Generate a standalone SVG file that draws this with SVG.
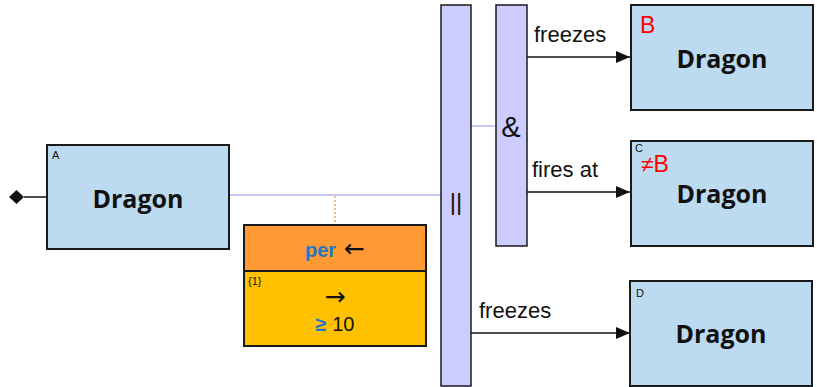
<svg xmlns="http://www.w3.org/2000/svg" width="817" height="387" viewBox="0 0 817 387">
<style>
.node{fill:#bcdbf1;stroke:#1a1a1a;stroke-width:2}
.bar{fill:#ccccff;stroke:#1a1a1a;stroke-width:1.5}
.big{font-family:"Open Sans","Liberation Sans",sans-serif;font-weight:bold;font-size:25px;fill:#111;text-anchor:middle}
.tag{font-family:"Liberation Sans",sans-serif;font-size:11px;fill:#111}
.red{font-family:"Liberation Sans",sans-serif;font-size:23px;fill:#ff0000}
.lbl{font-family:"Liberation Sans",sans-serif;font-size:22px;fill:#111}
.arr{stroke:#111;stroke-width:1.5;fill:none;marker-end:url(#ah)}
.soft{stroke:#c8c8f4;stroke-width:2;fill:none}
.sym{font-family:"DejaVu Sans",sans-serif;font-size:25px;fill:#111}
</style>
<defs>
<marker id="ah" markerWidth="14" markerHeight="12" refX="14" refY="6" orient="auto" markerUnits="userSpaceOnUse">
<path d="M0,0 L14,6 L0,12 Z" fill="#111"/>
</marker>
</defs>
<rect width="817" height="387" fill="#ffffff"/>
<g id="connectors">
<line class="soft" x1="229" y1="195" x2="441" y2="195"/>
<line class="soft" x1="471" y1="126" x2="496" y2="126"/>
<line x1="335" y1="196" x2="335" y2="225" stroke="#f4a460" stroke-width="1.5" stroke-dasharray="2,2"/>
<line x1="24" y1="197" x2="47" y2="197" stroke="#111" stroke-width="1.5"/>
<path d="M9,197 L16.5,190 L24,197 L16.5,204 Z" fill="#111"/>
<line class="arr" x1="527" y1="57" x2="630" y2="57"/>
<text class="lbl" x="534" y="42">freezes</text>
<line class="arr" x1="527" y1="192" x2="630" y2="192"/>
<text class="lbl" x="532" y="177">fires at</text>
<line class="arr" x1="471" y1="333" x2="630" y2="333"/>
<text class="lbl" x="479" y="318">freezes</text>
</g>
<g id="nodeA">
<rect class="node" x="47" y="145" width="182" height="104"/>
<text class="tag" x="52" y="159">A</text>
<text class="big" x="138" y="208">Dragon</text>
</g>
<g id="constraint">
<rect x="244" y="225" width="182" height="46" fill="#ff9933" stroke="#1a1a1a" stroke-width="2"/>
<rect x="244" y="271" width="182" height="75" fill="#ffc000" stroke="#1a1a1a" stroke-width="2"/>
<text x="335" y="257" text-anchor="middle" font-family="Liberation Sans,sans-serif" font-size="20px"><tspan fill="#1f78c1" font-weight="bold">per</tspan><tspan class="sym"> ←</tspan></text>
<text x="248" y="285" font-family="Liberation Sans,sans-serif" font-size="11px" fill="#111">{1}</text>
<text class="sym" x="335" y="305" text-anchor="middle">→</text>
<text x="335" y="331" text-anchor="middle" font-family="Liberation Sans,sans-serif" font-size="20px"><tspan fill="#1f78c1" font-weight="bold">≥</tspan><tspan fill="#111"> 10</tspan></text>
</g>
<g id="par">
<rect class="bar" x="441" y="5" width="30" height="381"/>
<text x="456" y="210" text-anchor="middle" font-family="Liberation Sans,sans-serif" font-size="24px" fill="#111">||</text>
</g>
<g id="and">
<rect class="bar" x="496" y="5" width="31" height="241"/>
<text x="511" y="137" text-anchor="middle" font-family="Liberation Sans,sans-serif" font-size="29px" fill="#111">&amp;</text>
</g>
<g id="nodeB">
<rect class="node" x="631" y="5" width="182" height="105"/>
<text class="red" x="640" y="33">B</text>
<text class="big" x="722" y="68">Dragon</text>
</g>
<g id="nodeC">
<rect class="node" x="631" y="141" width="182" height="105"/>
<text class="tag" x="635" y="152">C</text>
<text class="red" x="641" y="172">≠B</text>
<text class="big" x="722" y="203">Dragon</text>
</g>
<g id="nodeD">
<rect class="node" x="630" y="281" width="182" height="105"/>
<text class="tag" x="636" y="297">D</text>
<text class="big" x="721" y="343">Dragon</text>
</g>
</svg>
